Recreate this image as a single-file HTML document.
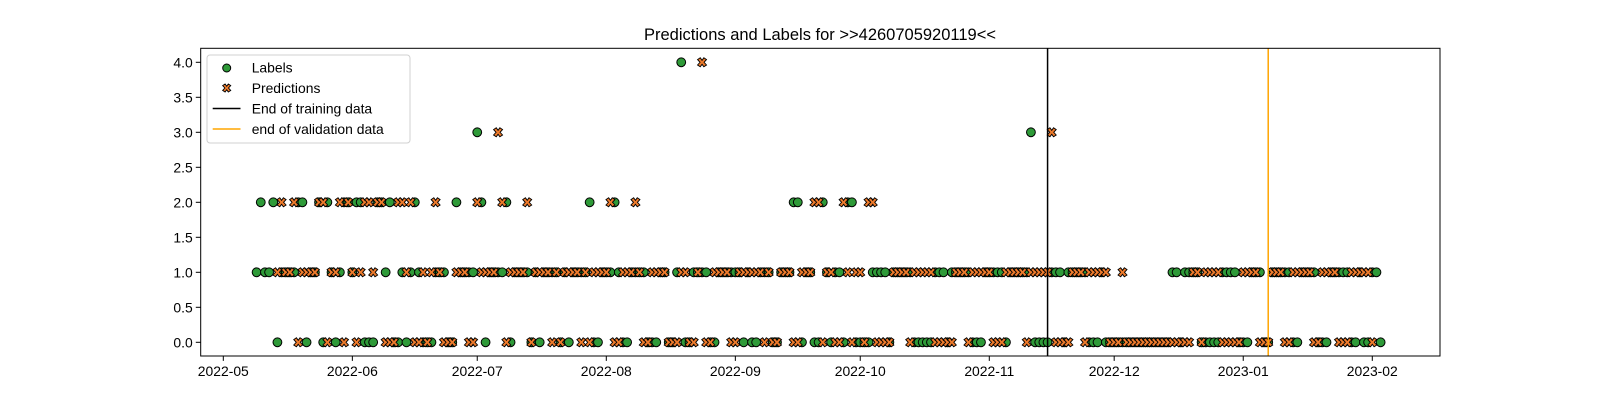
<!DOCTYPE html>
<html><head><meta charset="utf-8"><style>
html,body{margin:0;padding:0;background:#fff;}
svg text{font-family:"Liberation Sans","DejaVu Sans",sans-serif;}
</style></head><body>
<svg id="chart" width="1600" height="400" viewBox="0 0 1600 400" xmlns="http://www.w3.org/2000/svg">
<rect width="1600" height="400" fill="#fff"/>
<text x="820" y="40" font-size="16.5" text-anchor="middle">Predictions and Labels for &gt;&gt;4260705920119&lt;&lt;</text>
<g id="marks"></g>
<g id="axes"></g>
</svg>
<script>
// data
const labelStart = "2022-05-09";
const labelValues = [1,2,1,1,2,0,1,1,1,
1,2,2,0,1,1,2,0,2,1,
0,1,2,2,1,2,2,0,0,0,
2,2,1,2,0,0,1,0,1,2,
1,0,0,0,1,1,1,0,0,2,
1,1,1,1,3,2,0,1,1,1,
1,2,0,1,1,1,1,0,1,0,
1,1,1,1,0,1,0,1,1,1,
1,2,0,0,1,1,1,2,1,0,
0,1,1,1,1,0,0,0,1,1,
0,0,1,4,0,0,1,1,1,1,
0,0,1,1,1,1,1,1,0,1,
0,0,1,1,1,0,0,1,1,1,
2,2,0,1,1,0,0,2,1,0,
1,1,0,2,2,0,0,0,0,1,
1,1,1,0,1,1,1,1,1,0,
0,0,0,0,1,1,1,0,1,1,
1,1,1,0,0,0,1,1,1,1,
1,0,1,1,1,1,1,3,0,0,
0,0,1,1,1,0,1,1,1,1,
1,0,0,0,1,0,0,0,0,0,0,0,0,0,0,0,0,0,0,0,
0,1,1,0,1,1,1,1,0,0,
0,0,0,1,1,1,1,0,0,0,
1,1,1,0,0,1,1,1,1,1,
0,0,1,1,1,1,0,0,0,1,
1,1,1,1,0,0,1,0,0,1,
1,0];
const predStart = "2022-05-14";
const predValues = [1,2,1,1,2,0,1,1,1,
1,2,2,0,1,1,2,0,2,1,
0,1,2,2,1,2,2,0,0,0,
2,2,1,2,0,0,1,0,1,2,
1,0,0,0,1,1,1,0,0,2,
1,1,1,1,3,2,0,1,1,1,
1,2,0,1,1,1,1,0,1,0,
1,1,1,1,0,1,0,1,1,1,
1,2,0,0,1,1,1,2,1,0,
0,1,1,1,1,0,0,0,1,1,
0,0,1,4,0,0,1,1,1,1,
0,0,1,1,1,1,1,1,0,1,
0,0,1,1,1,0,0,1,1,1,
2,2,0,1,1,0,0,2,1,0,
1,1,0,2,2,0,0,0,0,1,
1,1,1,0,1,1,1,1,1,0,
0,0,0,0,1,1,1,0,1,1,
1,1,1,0,0,0,1,1,1,1,
1,0,1,1,1,1,1,3,0,0,
0,0,1,1,1,0,1,1,1,1,
1,0,0,0,1,0,0,0,0,0,0,0,0,0,0,0,0,0,0,0,
0,1,1,0,1,1,1,1,0,0,
0,0,0,1,1,1,1,0,0,0,
1,1,1,0,0,1,1,1,1,1,
0,0,1,1,1,1,0,0,0,1,
1,1,1,1,0];
const xTickLabels = ["2022-05","2022-06","2022-07","2022-08","2022-09","2022-10","2022-11","2022-12","2023-01","2023-02"];
const yTickLabels = ["0.0","0.5","1.0","1.5","2.0","2.5","3.0","3.5","4.0"];
const trainEnd = "2022-11-15";
const valEnd = "2023-01-07";

const NS="http://www.w3.org/2000/svg";
const L=200.7,R=1440,T=48.3,B=356;
const DAY=86400000, origin=Date.UTC(2022,4,1);
function days(s){const p=s.split("-").map(Number);return (Date.UTC(p[0],p[1]-1,p[2]||1)-origin)/DAY;}
function xs(d){return 223.3+4.163*d;}
function ys(v){return 342.3-70*v;}
function mk(tag,attrs,parent){const e=document.createElementNS(NS,tag);for(const k in attrs)e.setAttribute(k,attrs[k]);parent.appendChild(e);return e;}
const marks=document.getElementById('marks'), axes=document.getElementById('axes');
const GREEN="#2e9a38", ORANGE="#ee7b2c";
function xPath(cx,cy,s){const a=s*0.45,b=s*0.2;
 return `M${cx-a},${cy-a+b*0.9}L${cx-b*0.9},${cy-a}L${cx},${cy-b}L${cx+b*0.9},${cy-a}L${cx+a},${cy-a+b*0.9}L${cx+b},${cy}L${cx+a},${cy+a-b*0.9}L${cx+b*0.9},${cy+a}L${cx},${cy+b}L${cx-b*0.9},${cy+a}L${cx-a},${cy+a-b*0.9}L${cx-b},${cy}Z`;}
const l0=days(labelStart);
labelValues.forEach((v,i)=>{
 const c=mk('circle',{cx:xs(l0+i),cy:ys(v),r:4.4,fill:GREEN,stroke:'#000','stroke-width':1},marks);
 
 
});
const p0=days(predStart);
predValues.forEach((v,i)=>{
 const p=mk('path',{d:xPath(xs(p0+i),ys(v),10),fill:ORANGE,stroke:'#000','stroke-width':0.9},marks);
 
 
});
const tl=mk('line',{x1:xs(days(trainEnd)),x2:xs(days(trainEnd)),y1:T,y2:B,stroke:'#000','stroke-width':1.5},marks);


const vl=mk('line',{x1:xs(days(valEnd)),x2:xs(days(valEnd)),y1:T,y2:B,stroke:'#ffa500','stroke-width':1.5},marks);


const frame=mk('rect',{x:L,y:T,width:R-L,height:B-T,fill:'none',stroke:'#000','stroke-width':1},axes);


xTickLabels.forEach(t=>{
 const x=xs(days(t+"-01"));
 mk('line',{x1:x,x2:x,y1:B,y2:B+4.9,stroke:'#000','stroke-width':1},axes);
 const tx=mk('text',{x:x,y:B+20,'font-size':13.9,'text-anchor':'middle'},axes);
 tx.textContent=t;
 
 
});
yTickLabels.forEach(t=>{
 const y=ys(parseFloat(t));
 mk('line',{x1:L-4.9,x2:L,y1:y,y2:y,stroke:'#000','stroke-width':1},axes);
 const tx=mk('text',{x:L-8,y:y+5,'font-size':13.9,'text-anchor':'end'},axes);
 tx.textContent=t;
 
 
});
// legend
const lg=mk('g',{},axes);


mk('rect',{x:207,y:55,width:203,height:88,rx:3,fill:'#fff','fill-opacity':0.8,stroke:'#d0d0d0','stroke-width':1},lg);
mk('circle',{cx:226.7,cy:68,r:4,fill:GREEN,stroke:'#000','stroke-width':1},lg);
mk('path',{d:xPath(226.7,88,9),fill:ORANGE,stroke:'#000','stroke-width':0.9},lg);
mk('line',{x1:212.7,x2:240.5,y1:108.5,y2:108.5,stroke:'#000','stroke-width':1.5},lg);
mk('line',{x1:212.7,x2:240.5,y1:129,y2:129,stroke:'#ffa500','stroke-width':1.5},lg);
[["Labels",72.5,'legend-labels'],["Predictions",93,'legend-predictions'],["End of training data",113.5,'legend-training'],["end of validation data",134,'legend-validation']].forEach(a=>{
 const tx=mk('text',{x:251.7,y:a[1],'font-size':13.9},lg);
 tx.textContent=a[0];
 
 
});
</script>
</body></html>
